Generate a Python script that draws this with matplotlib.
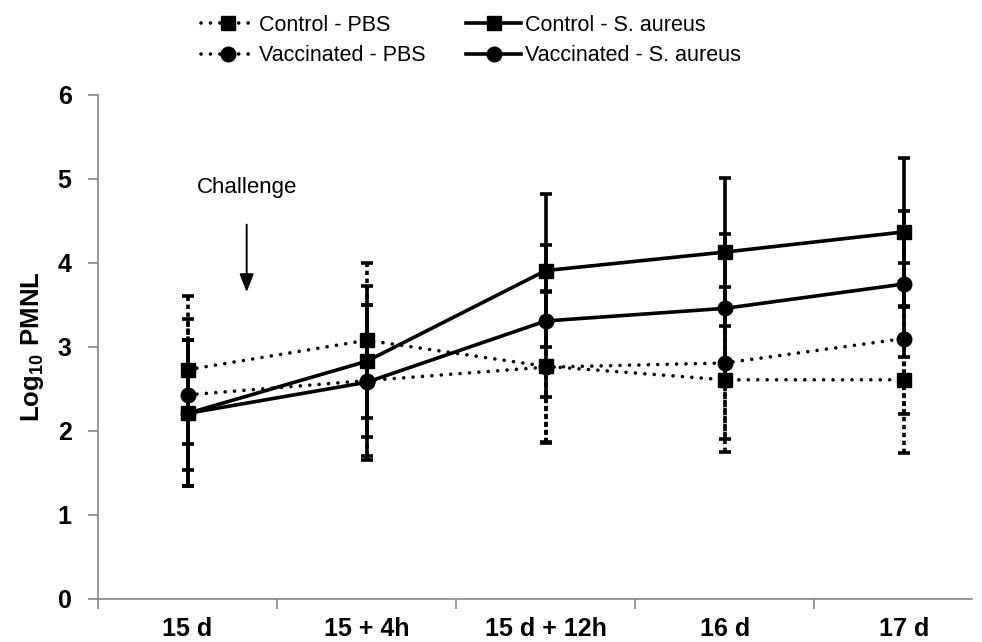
import matplotlib
matplotlib.use("Agg")
import matplotlib.pyplot as plt

plt.rcParams['font.family'] = ['Liberation Sans', 'DejaVu Sans']
plt.rcParams['mathtext.fontset'] = 'custom'
plt.rcParams['mathtext.bf'] = 'Liberation Sans:bold'
plt.rcParams['mathtext.rm'] = 'Liberation Sans'

categories = ['15 d', '15 + 4h', '15 d + 12h', '16 d', '17 d']
control_pbs = [2.73, 3.08, 2.77, 2.61, 2.61]
control_pbs_err = [0.88, 0.92, 0.90, 0.86, 0.87]
control_sa = [2.21, 2.83, 3.91, 4.13, 4.37]
control_sa_err = [0.87, 0.90, 0.91, 0.88, 0.88]
vacc_pbs = [2.43, 2.60, 2.76, 2.81, 3.10]
vacc_pbs_err = [0.90, 0.90, 0.90, 0.91, 0.90]
vacc_sa = [2.21, 2.58, 3.31, 3.46, 3.75]
vacc_sa_err = [0.87, 0.92, 0.90, 0.89, 0.87]
labels = ['Control - PBS', 'Control - S. aureus', 'Vaccinated - PBS', 'Vaccinated - S. aureus']

fig = plt.figure(figsize=(9.82, 6.42), dpi=100)
ax = fig.add_axes([98/982, 1-599/642, (972-98)/982, (599-95)/642])

x = list(range(len(categories)))
dot = (0, (0.01, 2.6))
ebdot = (0, (1.2, 1.0))

series = [
    (control_pbs, control_pbs_err, 's', 'dotted'),
    (control_sa, control_sa_err, 's', 'solid'),
    (vacc_pbs, vacc_pbs_err, 'o', 'dotted'),
    (vacc_sa, vacc_sa_err, 'o', 'solid'),
]
handles = []
for (vals, errs, mk, style), lab in zip(series, labels):
    eb = ax.errorbar(x, vals, yerr=errs, fmt='none', ecolor='black',
                     elinewidth=2.6, capsize=4.5, capthick=2.6, zorder=2)
    if style == 'dotted':
        for lc in eb[2]:
            lc.set_linestyle(ebdot)
        ln, = ax.plot(x, vals, color='black', lw=2.6, linestyle=dot,
                      dash_capstyle='round', marker=mk, markersize=10.5, zorder=3)
    else:
        ln, = ax.plot(x, vals, color='black', lw=2.6, linestyle='-',
                      marker=mk, markersize=10.5, zorder=3)
    handles.append(ln)

ax.set_xlim(-0.5, 4.38)
ax.set_ylim(0, 6)
ax.set_yticks(range(0, 7))
ax.set_xticks(x)
ax.set_xticklabels(categories, fontsize=18, fontweight='bold')
ax.set_yticklabels([str(i) for i in range(7)], fontsize=18, fontweight='bold')
ax.set_xticks([i - 0.5 for i in range(5)], minor=True)
ax.tick_params(axis='x', which='major', length=0, pad=13)
ax.tick_params(axis='x', which='minor', length=7, color='#888888', width=1.2)
ax.tick_params(axis='y', length=7, color='#888888', width=1.2, pad=12)
for s in ['top', 'right']:
    ax.spines[s].set_visible(False)
for s in ['left', 'bottom']:
    ax.spines[s].set_color('#888888')
    ax.spines[s].set_linewidth(1.2)

ax.set_ylabel(r'$\mathbf{Log_{10}\ PMNL}$', fontsize=18.5, labelpad=8)

ax.text(0.33, 4.9, 'Challenge', ha='center', va='center', fontsize=16)
ax.annotate('', xy=(0.33, 3.62), xytext=(0.33, 4.49),
            arrowprops=dict(arrowstyle='-|>,head_length=1.1,head_width=0.43',
                            color='black', lw=1.4))

order = [0, 2, 1, 3]
leg = fig.legend([handles[i] for i in order], [labels[i] for i in order],
                 loc='upper left', bbox_to_anchor=(190/982, 1 - 4/642),
                 ncol=2, frameon=False, fontsize=15.5, handlelength=2.55,
                 handletextpad=0.15, columnspacing=1.9, labelspacing=0.45,
                 borderaxespad=0.1)

fig.savefig('out.png', dpi=100)
